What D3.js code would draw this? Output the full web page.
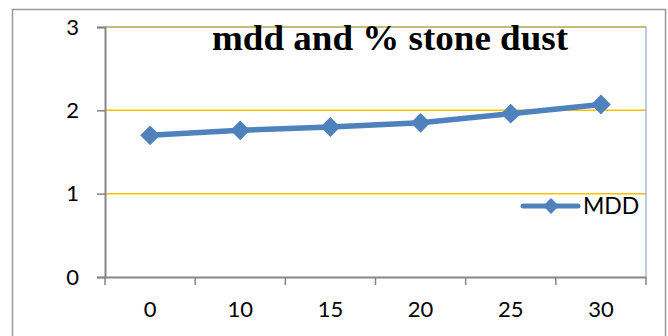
<!DOCTYPE html>
<html>
<head>
<meta charset="utf-8">
<script src="https://cdn.jsdelivr.net/npm/d3@7"></script>
<style>
  html, body { margin: 0; padding: 0; background: #fff; }
  svg { display: block; }
</style>
</head>
<body>
<svg id="chart" width="668" height="336"></svg>
<script>
// Stone dust content (%) and maximum dry density
const categories = ["0", "10", "15", "20", "25", "30"];
const mddValues = [1.70, 1.76, 1.80, 1.85, 1.96, 2.07];
const yTicks = [0, 1, 2, 3];
const seriesName = "MDD";
const titleText = "mdd and % stone dust";

const svg = d3.select("#chart");
const plot = { left: 105, right: 646, top: 27, bottom: 277 };

const blue = "#4f81bd";
const gold = "#ffc000";
const axisGray = "#868686";
const labelFont = "Lato, 'Open Sans', sans-serif";

// outer chart border
svg.append("rect")
  .attr("x", 12.5).attr("y", 9.5)
  .attr("width", 653).attr("height", 340)
  .attr("fill", "#fff").attr("stroke", "#9a9a9a").attr("stroke-width", 1.5);

const x = d3.scaleBand().domain(categories).range([plot.left, plot.right]);
const y = d3.scaleLinear().domain([0, 3]).range([plot.bottom, plot.top]);

// horizontal gridlines
svg.append("g")
  .selectAll("line")
  .data(yTicks.filter(d => d > 0))
  .join("line")
  .attr("x1", plot.left).attr("x2", plot.right)
  .attr("y1", d => y(d)).attr("y2", d => y(d))
  .attr("stroke", gold).attr("stroke-width", 1.5);

// plot area border (top and right)
svg.append("path")
  .attr("d", `M${plot.left},${plot.top}H${plot.right}V${plot.bottom}`)
  .attr("fill", "none").attr("stroke", "#7aa0d0").attr("stroke-width", 1.2)
  .attr("stroke-opacity", 0.85);

// y axis
const yAxis = svg.append("g")
  .attr("transform", `translate(${plot.left},0)`)
  .call(d3.axisLeft(y).tickValues(yTicks).tickSize(8).tickPadding(18).tickFormat(d3.format("d")));
yAxis.select(".domain").attr("stroke", axisGray).attr("stroke-width", 2);
yAxis.selectAll(".tick line").attr("stroke", axisGray).attr("stroke-width", 1.5);
yAxis.selectAll(".tick text")
  .attr("font-family", labelFont)
  .attr("font-size", 22).attr("fill", "#000");

// x axis with ticks between categories
const xAxis = svg.append("g")
  .attr("transform", `translate(0,${plot.bottom})`)
  .call(d3.axisBottom(x).tickSize(0).tickPadding(24));
xAxis.select(".domain").attr("stroke", axisGray).attr("stroke-width", 2);
xAxis.selectAll(".tick text")
  .attr("font-family", labelFont)
  .attr("font-size", 22).attr("fill", "#000");
const bounds = categories.map(c => x(c)).concat([x(categories[categories.length - 1]) + x.bandwidth()]);
xAxis.selectAll(".bound")
  .data(bounds)
  .join("line")
  .attr("class", "bound")
  .attr("x1", d => d).attr("x2", d => d)
  .attr("y1", 0).attr("y2", 8)
  .attr("stroke", axisGray).attr("stroke-width", 1.5);

// series line
const cx = (d, i) => x(categories[i]) + x.bandwidth() / 2;
const line = d3.line().x(cx).y(d => y(d));
svg.append("path")
  .datum(mddValues)
  .attr("d", line)
  .attr("fill", "none").attr("stroke", blue).attr("stroke-width", 5.5)
  .attr("stroke-linejoin", "round");

// diamond markers
const diamond = d3.symbol().type(d3.symbolDiamond2).size(250);
svg.append("g")
  .selectAll("path")
  .data(mddValues)
  .join("path")
  .attr("d", diamond)
  .attr("transform", (d, i) => `translate(${cx(d, i)},${y(d)})`)
  .attr("fill", blue);

// title
svg.append("text")
  .attr("x", 212).attr("y", 50)
  .attr("font-family", "'Liberation Serif', 'Times New Roman', serif")
  .attr("font-weight", "bold").attr("font-size", 35)
  .attr("textLength", 356).attr("lengthAdjust", "spacingAndGlyphs")
  .attr("fill", "#000")
  .text(titleText);

// legend
const lg = svg.append("g").attr("transform", "translate(523,206)");
lg.append("line").attr("x1", 0).attr("x2", 55).attr("y1", 0).attr("y2", 0)
  .attr("stroke", blue).attr("stroke-width", 5).attr("stroke-linecap", "round");
lg.append("path").attr("d", d3.symbol().type(d3.symbolDiamond2).size(160))
  .attr("transform", "translate(28,0)").attr("fill", blue);
lg.append("text").attr("x", 60).attr("y", 0).attr("dy", "0.36em")
  .attr("font-family", labelFont)
  .attr("font-size", 23).attr("fill", "#000")
  .text(seriesName);
</script>
</body>
</html>
